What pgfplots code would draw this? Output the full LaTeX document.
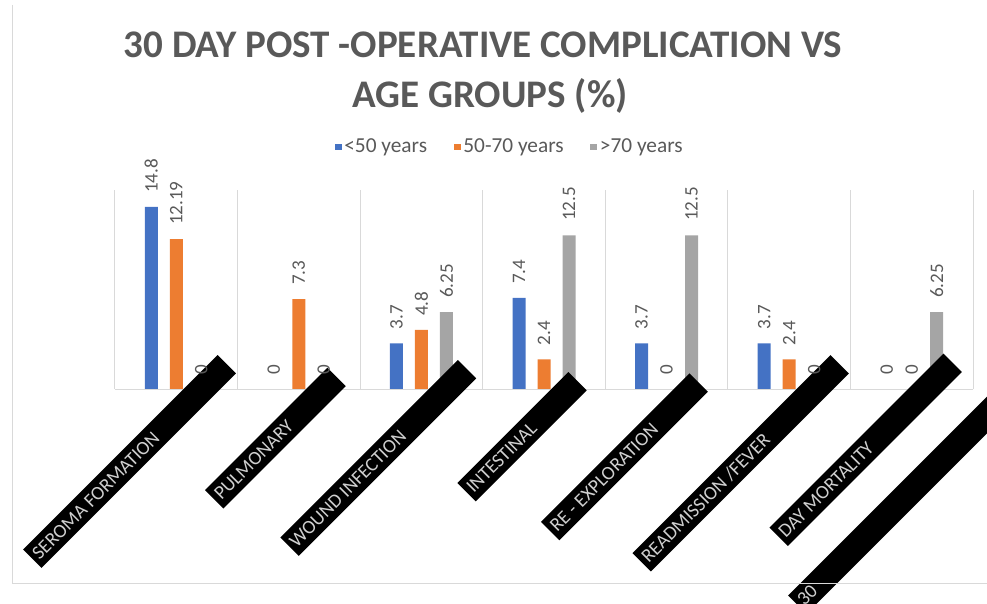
\documentclass[border=0pt]{standalone}
\usepackage{pgfplots}
\pgfplotsset{compat=1.18}
\usepackage{fontspec}
\setmainfont{Carlito}

\definecolor{cLow}{HTML}{4472C4}
\definecolor{cMid}{HTML}{ED7D31}
\definecolor{cHigh}{HTML}{A5A5A5}
\definecolor{txt}{HTML}{595959}
\definecolor{rulegray}{HTML}{D9D9D9}
\definecolor{bandtxt}{HTML}{CFCFCF}

% 1 unit = one pixel of the finished picture
\newdimen\pxu \pxu=0.75pt

% rotated black label band: #1 = length below the crossing point,
% #2 = length above it, #3 = text (starts near the lower end)
\newcommand\band[3]{\makebox[0pt][l]{\hspace*{-#1\pxu}{\fboxsep=0pt\colorbox{black}{%
  \vrule height 13\pxu depth 13\pxu width 0pt%
  \makebox[\dimexpr#1\pxu+#2\pxu\relax][l]{\hspace*{4\pxu}\raisebox{-6.3\pxu}{\color{bandtxt}#3}}}}}}

\begin{document}
\begin{tikzpicture}[x=0.75pt,y=0.75pt]
\path[use as bounding box] (-115,-214) rectangle (872,389);
\clip (-115,-214) rectangle (872,389);
\begin{axis}[
  at={(0,0)}, anchor=south west, scale only axis,
  width=643.5pt, height=149.25pt,
  xmin=-0.5, xmax=6.5, ymin=0, ymax=16.18,
  ybar=9pt, bar width=9.75pt,
  axis y line=none, axis x line*=bottom,
  x axis line style={draw=rulegray, line width=0.75pt, -},
  ytick=\empty,
  xtick={0.21,1.21,2.21,3.21,4.21,5.21,6.12},
  xticklabels={
    {\band{240}{35}{SEROMA FORMATION}},
    {\band{156}{17}{PULMONARY}},
    {\band{223}{28}{WOUND INFECTION}},
    {\band{146}{11}{INTESTINAL}},
    {\band{201}{9}{RE - EXPLORATION}},
    {\band{245}{35}{READMISSION /FEVER}},
    {\band{209}{37}{DAY MORTALITY}}},
  major tick length=0pt, minor tick length=0pt,
  xticklabel style={rotate=45, anchor=base, inner sep=0pt,
    font=\fontsize{14.5pt}{17pt}\selectfont},
  minor xtick={-0.5,0.5,...,6.5},
  xminorgrids=true,
  minor x grid style={draw=rulegray, line width=0.75pt},
  axis on top,
  clip=false,
  /pgf/number format/assume math mode=true,
  nodes near coords={\pgfmathprintnumber{\pgfplotspointmeta}},
  every node near coord/.append style={rotate=90, anchor=west,
    inner xsep=10.5pt, text=txt, font=\fontsize{14.3pt}{17pt}\selectfont},
  legend columns=3,
  legend style={at={(0.4604,1.216)}, anchor=center, draw=none, fill=none,
    text=txt, font=\fontsize{16pt}{19pt}\selectfont,
    /tikz/every even column/.append style={column sep=18pt}},
  legend image code/.code={\fill[#1] (0pt,-2.6pt) rectangle (5.25pt,2.6pt);},
]
\addplot[fill=cLow, draw=none] coordinates
  {(0,14.8) (1,0) (2,3.7) (3,7.4) (4,3.7) (5,3.7) (6,0)};
\addplot[fill=cMid, draw=none] coordinates
  {(0,12.19) (1,7.3) (2,4.8) (3,2.4) (4,0) (5,2.4) (6,0)};
\addplot[fill=cHigh, draw=none] coordinates
  {(0,0) (1,0) (2,6.25) (3,12.5) (4,12.5) (5,0) (6,6.25)};
\legend{<50 years, 50-70 years, >70 years}
% second line of the last category label
\node[rotate=45, anchor=base, inner sep=0pt, font=\fontsize{14.5pt}{17pt}\selectfont]
  at (axis cs:6.826,0) {\band{305}{40}{30}};
\end{axis}

% chart title
\node[anchor=base, text=txt, font=\fontsize{29.3pt}{34pt}\selectfont\bfseries]
  at (368,331) {30 DAY POST -OPERATIVE COMPLICATION VS};
\node[anchor=base, text=txt, font=\fontsize{29.3pt}{34pt}\selectfont\bfseries]
  at (375,281) {AGE GROUPS (\%)};

% chart frame
\draw[rulegray, line width=0.75pt] (-102,384) -- (-102,-194) -- (872,-194);
\end{tikzpicture}
\end{document}
